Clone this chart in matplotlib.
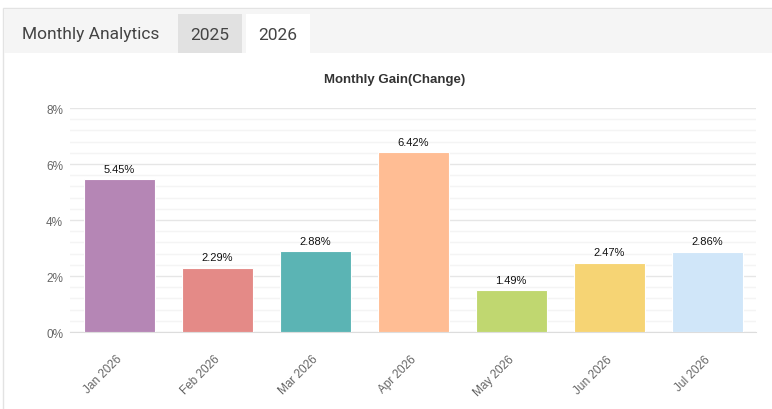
import matplotlib.pyplot as plt
from matplotlib.patches import Rectangle
from matplotlib.ticker import MultipleLocator, FuncFormatter
from matplotlib.transforms import ScaledTranslation

# Monthly gain values (percent)
months = ['Jan 2026', 'Feb 2026', 'Mar 2026', 'Apr 2026', 'May 2026', 'Jun 2026', 'Jul 2026']
gains = [5.45, 2.29, 2.88, 6.42, 1.49, 2.47, 2.86]
colors = ['#b586b5', '#e48a87', '#5bb4b4', '#ffbd94', '#c0d770', '#f6d474', '#d0e6f9']
tabs = ['2025', '2026']

plt.rcParams['font.family'] = ['Liberation Sans', 'DejaVu Sans']

fig = plt.figure(figsize=(7.72, 4.10), dpi=100)
W, H = 772, 410

def fx(px):
    return px / W

def fy(py):
    return 1 - py / H

# panel border and header band
fig.patches.append(Rectangle((fx(3), -0.1), fx(772), fy(9) + 0.1, transform=fig.transFigure,
                             facecolor='white', edgecolor='#e3e3e3', lw=1, zorder=0))
fig.patches.append(Rectangle((fx(4), fy(54)), fx(768), fy(10) - fy(54), transform=fig.transFigure,
                             facecolor='#f5f5f5', edgecolor='none', zorder=1))
fig.patches.append(Rectangle((fx(178), fy(54)), fx(64), fy(15) - fy(54), transform=fig.transFigure,
                             facecolor='#e1e1e1', edgecolor='none', zorder=2))
fig.patches.append(Rectangle((fx(246), fy(54)), fx(64), fy(15) - fy(54), transform=fig.transFigure,
                             facecolor='white', edgecolor='none', zorder=2))
hdr = dict(fontsize=12.5, color='#444444', va='center', zorder=3, family=['Roboto', 'DejaVu Sans'])
fig.text(fx(22), fy(35), 'Monthly Analytics', **hdr)
fig.text(fx(210), fy(35), tabs[0], ha='center', **hdr)
fig.text(fx(278), fy(35), tabs[1], ha='center', **hdr)

# plot area
ax = fig.add_axes([fx(70), fy(333), fx(686), fy(109) - fy(333)])
ax.set_zorder(4)
ax.patch.set_alpha(0)
x = range(len(months))
ax.bar(x, gains, width=71 / 98, color=colors, edgecolor='white', linewidth=0.8, zorder=3)
for i, v in zip(x, gains):
    ax.text(i, v + 0.2, f'{v:.2f}%', ha='center', va='bottom', fontsize=8, color='#111111')

ax.set_xlim(-0.5, len(months) - 0.5)
ax.set_ylim(0, 8)
ax.yaxis.set_major_locator(MultipleLocator(2))
ax.yaxis.set_minor_locator(MultipleLocator(0.4))
ax.yaxis.set_major_formatter(FuncFormatter(lambda v, p: f'{v:.0f}%'))
ax.grid(axis='y', which='major', color='#e6e6e6', lw=1, zorder=0)
ax.grid(axis='y', which='minor', color='#f4f4f4', lw=1, zorder=0)
for s in ['left', 'right', 'top']:
    ax.spines[s].set_visible(False)
ax.spines['bottom'].set_color('#dddddd')
ax.tick_params(axis='y', which='both', length=0, labelsize=8.5, labelcolor='#666666', pad=5)
ax.tick_params(axis='x', length=0, labelsize=8.5, labelcolor='#666666', pad=15)
ax.set_xticks(list(x))
ax.set_xticklabels(months, rotation=45, ha='right', rotation_mode='anchor')
shift = ScaledTranslation(-3 / 100, 0, fig.dpi_scale_trans)
for lbl in ax.get_xticklabels():
    lbl.set_transform(lbl.get_transform() + shift)

fig.text(fx(395), fy(80), 'Monthly Gain(Change)', fontsize=9.5, fontweight='bold',
         color='#333333', ha='center', va='center', zorder=5)

fig.savefig('out.png', dpi=100)
